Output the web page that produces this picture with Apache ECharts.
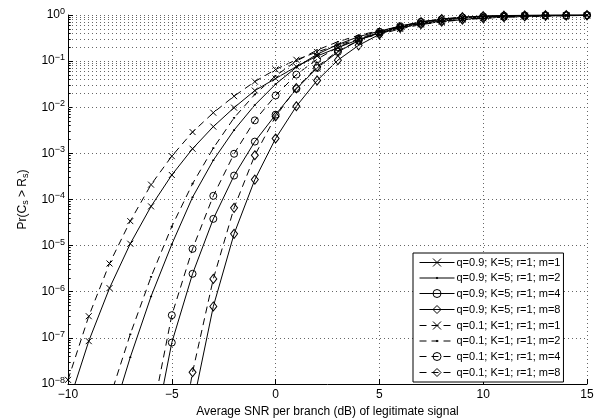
<!DOCTYPE html>
<html lang="en">
<head>
  <meta charset="UTF-8">
  <title>Document</title>
  <script src="https://cdn.jsdelivr.net/npm/echarts@6/dist/echarts.min.js"></script>
  <style>
    html, body { margin: 0; padding: 0; background: #fff; }
  </style>
</head>
<body>
  <div id="main" style="width: 600px;height:419px;"></div>
<script type="text/javascript">
  // SNR grid (dB), one point per integer
  var snr = [-10, -9, -8, -7, -6, -5, -4, -3, -2, -1, 0, 1, 2, 3, 4, 5, 6, 7, 8, 9, 10, 11, 12, 13, 14, 15];

  // q=0.9; K=5 (solid lines)
  var prQ9M1 = [3.4e-9, 8.5e-8, 1.2e-6, 1.1e-5, 7.1e-5, 3.4e-4, 1.26e-3, 3.8e-3, 9.8e-3, 0.023, 0.042, 0.076, 0.129, 0.195, 0.295, 0.41, 0.54, 0.66, 0.77, 0.85, 0.905, 0.94, 0.964, 0.977, 0.986, 0.991];
  var prQ9M2 = [null, null, 1.3e-9, 3.8e-8, 7.9e-7, 1.07e-5, 1.12e-4, 7.1e-4, 3.2e-3, 0.0112, 0.0316, 0.074, 0.141, 0.229, 0.339, 0.447, 0.575, 0.70, 0.80, 0.88, 0.929, 0.959, 0.977, 0.986, 0.993, 0.995];
  var prQ9M4 = [null, null, null, 1e-12, 4e-10, 7.9e-8, 2.45e-6, 3.8e-5, 3.3e-4, 1.8e-3, 6.9e-3, 0.025, 0.071, 0.158, 0.28, 0.43, 0.575, 0.71, 0.81, 0.89, 0.938, 0.966, 0.982, 0.991, 0.995, 0.998];
  var prQ9M8 = [null, null, null, null, null, 3e-12, 3.2e-9, 4.8e-7, 1.8e-5, 2.7e-4, 2.1e-3, 0.0105, 0.038, 0.105, 0.22, 0.38, 0.55, 0.71, 0.82, 0.90, 0.948, 0.973, 0.986, 0.993, 0.9965, 0.998];

  // q=0.1; K=1 (dashed lines)
  var prQ1M1 = [1.23e-8, 2.95e-7, 4.1e-6, 3.4e-5, 2.1e-4, 8.7e-4, 2.9e-3, 7.6e-3, 0.0174, 0.036, 0.066, 0.107, 0.158, 0.224, 0.30, 0.38, 0.50, 0.62, 0.71, 0.79, 0.85, 0.90, 0.933, 0.955, 0.97, 0.982];
  var prQ1M2 = [null, null, 4.8e-9, 1.2e-7, 2.1e-6, 2.6e-5, 2.2e-4, 1.3e-3, 5.9e-3, 0.019, 0.048, 0.1, 0.174, 0.263, 0.363, 0.457, 0.55, 0.645, 0.733, 0.80, 0.86, 0.90, 0.933, 0.955, 0.97, 0.982];
  var prQ1M4 = [null, null, null, 3e-12, 1.6e-9, 3.1e-7, 8.5e-6, 1.2e-4, 9.8e-4, 5.2e-3, 0.018, 0.051, 0.11, 0.2, 0.31, 0.43, 0.54, 0.645, 0.74, 0.81, 0.87, 0.91, 0.94, 0.96, 0.975, 0.984];
  var prQ1M8 = [null, null, null, null, null, 5e-11, 1.8e-8, 1.9e-6, 6.6e-5, 9.1e-4, 6.3e-3, 0.026, 0.076, 0.166, 0.28, 0.41, 0.525, 0.63, 0.72, 0.79, 0.85, 0.895, 0.927, 0.95, 0.966, 0.977];

  var names = [
    'q=0.9; K=5; r=1; m=1', 'q=0.9; K=5; r=1; m=2', 'q=0.9; K=5; r=1; m=4', 'q=0.9; K=5; r=1; m=8',
    'q=0.1; K=1; r=1; m=1', 'q=0.1; K=1; r=1; m=2', 'q=0.1; K=1; r=1; m=4', 'q=0.1; K=1; r=1; m=8'
  ];
  var values = [prQ9M1, prQ9M2, prQ9M4, prQ9M8, prQ1M1, prQ1M2, prQ1M4, prQ1M8];

  var app = echarts.init(document.getElementById('main'));
  var font = 'Liberation Sans';
  var gridColor = '#666';

  // matlab style markers; the dot sits in an empty 10x10 box so it stays small in the legend
  var marks = [
    { symbol: 'path://M0,0L10,10M10,0L0,10', size: 6, fill: 'none', border: 1 },
    { symbol: 'path://M0,0M10,10M4.3,4.3L5.7,4.3L6,5L5.7,5.7L4.3,5.7L4,5Z', size: 12, fill: '#000', border: 0 },
    { symbol: 'circle', size: 7, fill: 'none', border: 1 },
    { symbol: 'diamond', size: [7, 9], fill: 'none', border: 1 }
  ];

  // minor log grid lines (2..9 of each decade) + short ticks on the left axis
  var minorLines = [];
  for (var k = -8; k < 0; k++) {
    for (var m = 2; m <= 9; m++) {
      var v = m * Math.pow(10, k);
      minorLines.push({ yAxis: v, lineStyle: { color: gridColor, type: [1, 3], width: 1 } });
      minorLines.push([
        { coord: [-10, v], lineStyle: { color: '#000', type: 'solid', width: 1 } },
        { coord: [-9.87, v] }
      ]);
    }
  }

  function toPairs(arr) {
    return arr.map(function (y, i) { return [snr[i], y]; });
  }

  var series = values.map(function (arr, i) {
    var mk = marks[i % 4];
    var s = {
      name: names[i],
      type: 'line',
      data: toPairs(arr),
      symbol: mk.symbol,
      symbolSize: mk.size,
      showAllSymbol: true,
      clip: true,
      silent: true,
      lineStyle: { color: '#000', width: 1, type: i < 4 ? 'solid' : [7, 5] },
      itemStyle: { color: mk.fill, borderColor: '#000', borderWidth: mk.border },
      emphasis: { disabled: true }
    };
    if (i === 0) {
      s.markLine = {
        silent: true,
        symbol: 'none',
        label: { show: false },
        animation: false,
        data: minorLines
      };
    }
    return s;
  });

  function minus(s) {
    return String(s).replace('-', '\u2212');
  }

  var option = {
    animation: false,
    backgroundColor: '#fff',
    grid: { left: 68, right: 13, top: 15, bottom: 35, outerBoundsMode: 'none', containLabel: false },
    legend: {
      data: names,
      orient: 'vertical',
      left: 413,
      top: 253,
      itemWidth: 35,
      itemHeight: 10,
      itemGap: 3,
      padding: [3, 3, 3, 6],
      backgroundColor: '#fff',
      borderColor: '#000',
      borderWidth: 1,
      borderRadius: 0,
      selectedMode: false,
      lineStyle: { width: 1 },
      itemStyle: { borderWidth: 1 },
      textStyle: { fontFamily: font, fontSize: 11, lineHeight: 12, color: '#000', padding: [0, 0, 0, -3] }
    },
    xAxis: {
      type: 'value',
      min: -10,
      max: 15,
      interval: 5,
      name: 'Average SNR per branch (dB) of legitimate signal',
      nameLocation: 'middle',
      nameGap: 18,
      nameTextStyle: { fontFamily: font, fontSize: 12, color: '#000' },
      axisLine: { onZero: false, lineStyle: { color: '#000', width: 1 } },
      axisTick: { inside: true, length: 5, lineStyle: { color: '#000' } },
      axisLabel: { fontFamily: font, fontSize: 12, color: '#000', margin: 5, formatter: minus },
      splitLine: { show: true, lineStyle: { color: gridColor, type: [1, 3], width: 1 } }
    },
    yAxis: {
      type: 'log',
      logBase: 10,
      min: 1e-8,
      max: 1,
      interval: 1,
      name: 'Pr(C{sub|s} > R{sub|s})',
      nameLocation: 'middle',
      nameGap: 38,
      nameRotate: 90,
      nameTextStyle: {
        fontFamily: font, fontSize: 12, color: '#000',
        rich: { sub: { fontFamily: font, fontSize: 9, verticalAlign: 'bottom', padding: [6, 0, 0, 0] } }
      },
      axisLine: { onZero: false, lineStyle: { color: '#000', width: 1 } },
      axisTick: { inside: true, length: 5, lineStyle: { color: '#000' } },
      axisLabel: {
        fontFamily: font, fontSize: 12, color: '#000', margin: 3,
        formatter: function (v) {
          var e = Math.round(Math.log10(v));
          return '10{sup|' + minus(e) + '}';
        },
        rich: {
          sup: { fontFamily: font, fontSize: 9, verticalAlign: 'top', padding: [0, 0, 7, 0] }
        }
      },
      splitLine: { show: true, lineStyle: { color: gridColor, type: [1, 3], width: 1 } }
    },
    series: series
  };

  app.setOption(option);
</script>
</body>
</html>
